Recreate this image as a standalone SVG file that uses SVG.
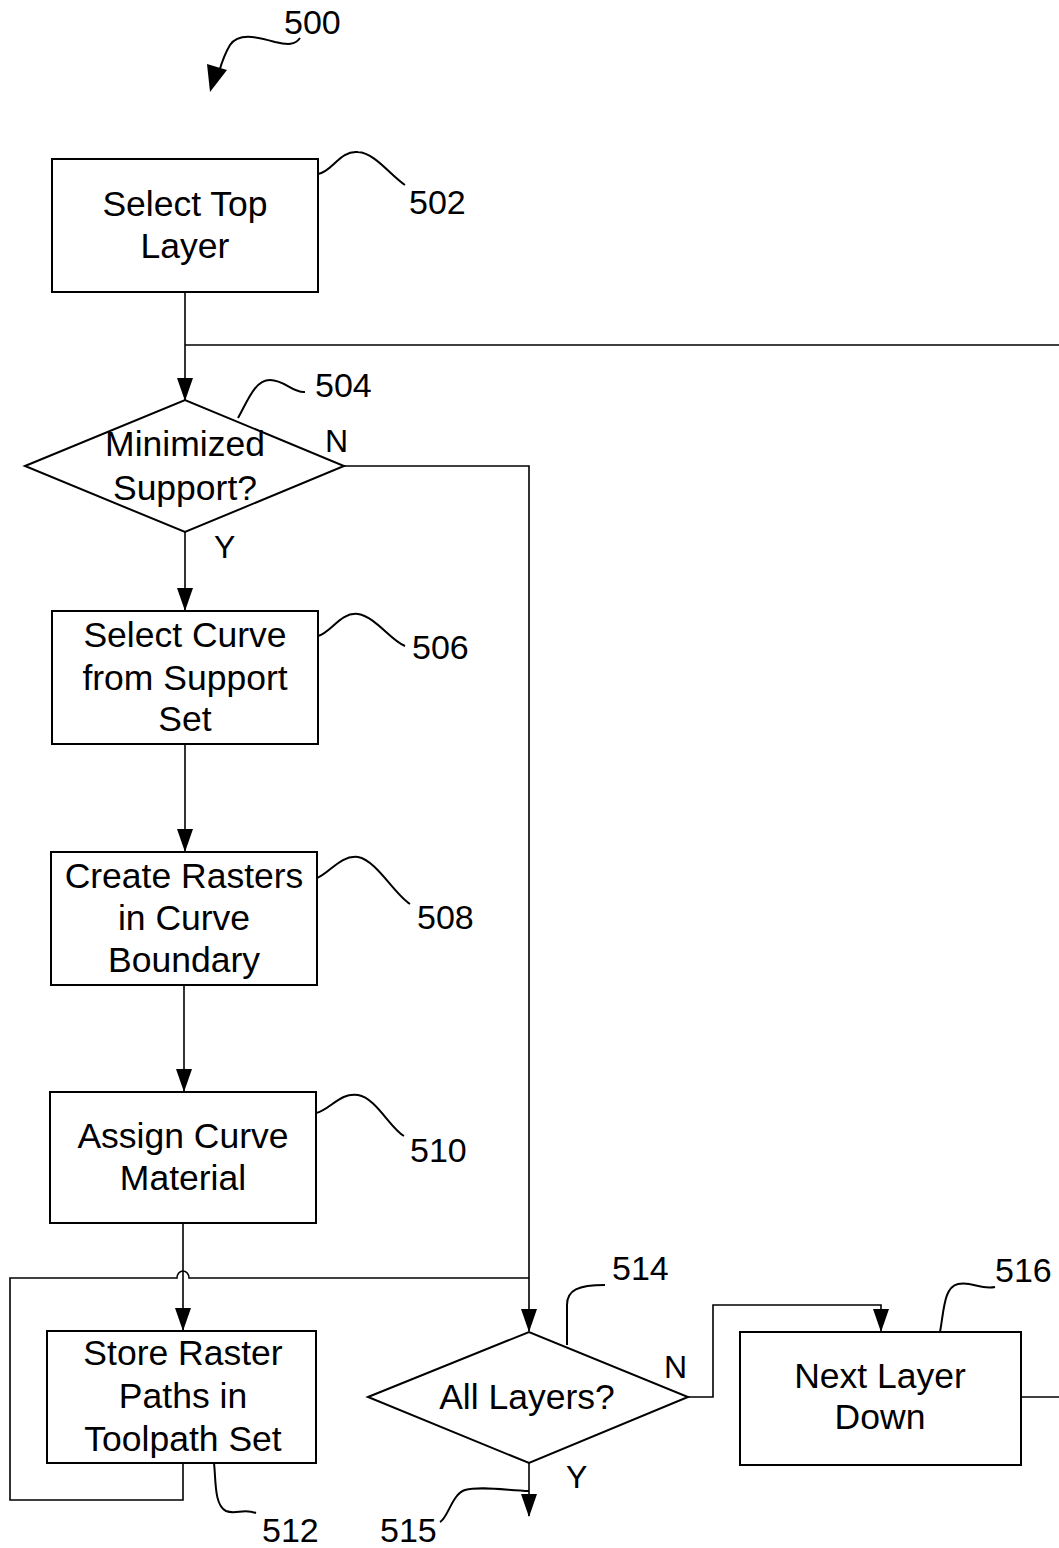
<svg xmlns="http://www.w3.org/2000/svg" width="1059" height="1548" viewBox="0 0 1059 1548">
<style>
.box{fill:#fff;stroke:#000;stroke-width:2}
.t{font-family:"Liberation Sans",Arial,sans-serif;font-size:35.5px;fill:#000;text-anchor:middle}
.lbl{font-family:"Liberation Sans",Arial,sans-serif;font-size:34px;fill:#000}
.yn{font-family:"Liberation Sans",Arial,sans-serif;font-size:32px;fill:#000}
.c{fill:none;stroke:#000;stroke-width:1.6}
.ld{fill:none;stroke:#000;stroke-width:2}
</style>
<defs>
<marker id="ah" markerWidth="16" markerHeight="24" refX="8" refY="22" orient="0" markerUnits="userSpaceOnUse">
<polygon points="0,0 16,0 8,23" fill="#000"/>
</marker>
</defs>
<rect width="1059" height="1548" fill="#fff"/>

<g id="connectors">
<line class="c" x1="185" y1="292" x2="185" y2="400" marker-end="url(#ah)"/>
<line class="c" x1="185" y1="345" x2="1059" y2="345"/>
<polyline class="c" points="344,466 529,466 529,1331" marker-end="url(#ah)"/>
<line class="c" x1="185" y1="532" x2="185" y2="610" marker-end="url(#ah)"/>
<line class="c" x1="185" y1="744" x2="185" y2="851" marker-end="url(#ah)"/>
<line class="c" x1="184" y1="985" x2="184" y2="1091" marker-end="url(#ah)"/>
<line class="c" x1="183" y1="1223" x2="183" y2="1330" marker-end="url(#ah)"/>
<path class="c" d="M529,1278 L189,1278 A6,7 0 0 0 177,1278 L10,1278 L10,1500 L183,1500 L183,1463"/>
<polyline class="c" points="688,1397 713,1397 713,1305 881,1305 881,1331" marker-end="url(#ah)"/>
<line class="c" x1="1020" y1="1397" x2="1059" y2="1397"/>
<line class="c" x1="529" y1="1463" x2="529" y2="1516" marker-end="url(#ah)"/>
</g>

<g id="ref500">
<text class="lbl" x="284" y="34">500</text>
<path class="ld" d="M300,38 C295,45 288,45 275,42 C255,36 238,33 230,45 C224,55 221,65 219,72"/>
<polygon points="207,64 227,70 210,92" fill="#000"/>
</g>

<g id="n502">
<rect class="box" x="52" y="159" width="266" height="133"/>
<text class="t" x="185" y="216">Select Top</text>
<text class="t" x="185" y="258">Layer</text>
<path class="ld" d="M318,174 C332,172 340,150 358,152 C375,153 390,175 405,185"/>
<text class="lbl" x="409" y="214">502</text>
</g>

<g id="n504">
<polygon class="box" points="25,466 185,400 344,466 185,532"/>
<text class="t" x="185" y="456">Minimized</text>
<text class="t" x="185" y="500">Support?</text>
<path class="ld" d="M238,418 C248,400 255,380 270,380 C285,380 292,393 305,392"/>
<text class="lbl" x="315" y="397">504</text>
<text class="yn" x="325" y="452">N</text>
<text class="yn" x="214" y="558">Y</text>
</g>

<g id="n506">
<rect class="box" x="52" y="611" width="266" height="133"/>
<text class="t" x="185" y="647">Select Curve</text>
<text class="t" x="185" y="690">from Support</text>
<text class="t" x="185" y="731">Set</text>
<path class="ld" d="M318,636 C332,632 340,612 358,614 C376,617 390,640 405,646"/>
<text class="lbl" x="412" y="659">506</text>
</g>

<g id="n508">
<rect class="box" x="51" y="852" width="266" height="133"/>
<text class="t" x="184" y="888">Create Rasters</text>
<text class="t" x="184" y="930">in Curve</text>
<text class="t" x="184" y="972">Boundary</text>
<path class="ld" d="M317,878 C330,873 340,855 358,857 C376,860 395,895 410,904"/>
<text class="lbl" x="417" y="929">508</text>
</g>

<g id="n510">
<rect class="box" x="50" y="1092" width="266" height="131"/>
<text class="t" x="183" y="1148">Assign Curve</text>
<text class="t" x="183" y="1190">Material</text>
<path class="ld" d="M316,1113 C330,1110 340,1092 358,1095 C376,1098 390,1128 404,1136"/>
<text class="lbl" x="410" y="1162">510</text>
</g>

<g id="n512">
<rect class="box" x="47" y="1331" width="269" height="132"/>
<text class="t" x="183" y="1365">Store Raster</text>
<text class="t" x="183" y="1408">Paths in</text>
<text class="t" x="183" y="1451">Toolpath Set</text>
<path class="ld" d="M214,1463 C216,1480 214,1505 226,1511 C236,1515 243,1508 256,1513"/>
<text class="lbl" x="262" y="1542">512</text>
</g>

<g id="n514">
<polygon class="box" points="368,1397 529,1332 688,1397 529,1463"/>
<text class="t" x="527" y="1409">All Layers?</text>
<path class="ld" d="M567,1345 L567,1305 C567,1290 578,1285 605,1285"/>
<text class="lbl" x="612" y="1280">514</text>
<text class="yn" x="664" y="1378">N</text>
<text class="yn" x="566" y="1488">Y</text>
</g>

<g id="ref515">
<path class="ld" d="M440,1522 C448,1518 452,1494 465,1490 C480,1486 505,1490 529,1491"/>
<text class="lbl" x="380" y="1542">515</text>
</g>

<g id="n516">
<rect class="box" x="740" y="1332" width="281" height="133"/>
<text class="t" x="880" y="1388">Next Layer</text>
<text class="t" x="880" y="1429">Down</text>
<path class="ld" d="M940,1332 C944,1310 944,1287 958,1284 C972,1281 980,1290 995,1287"/>
<text class="lbl" x="995" y="1282">516</text>
</g>
</svg>
